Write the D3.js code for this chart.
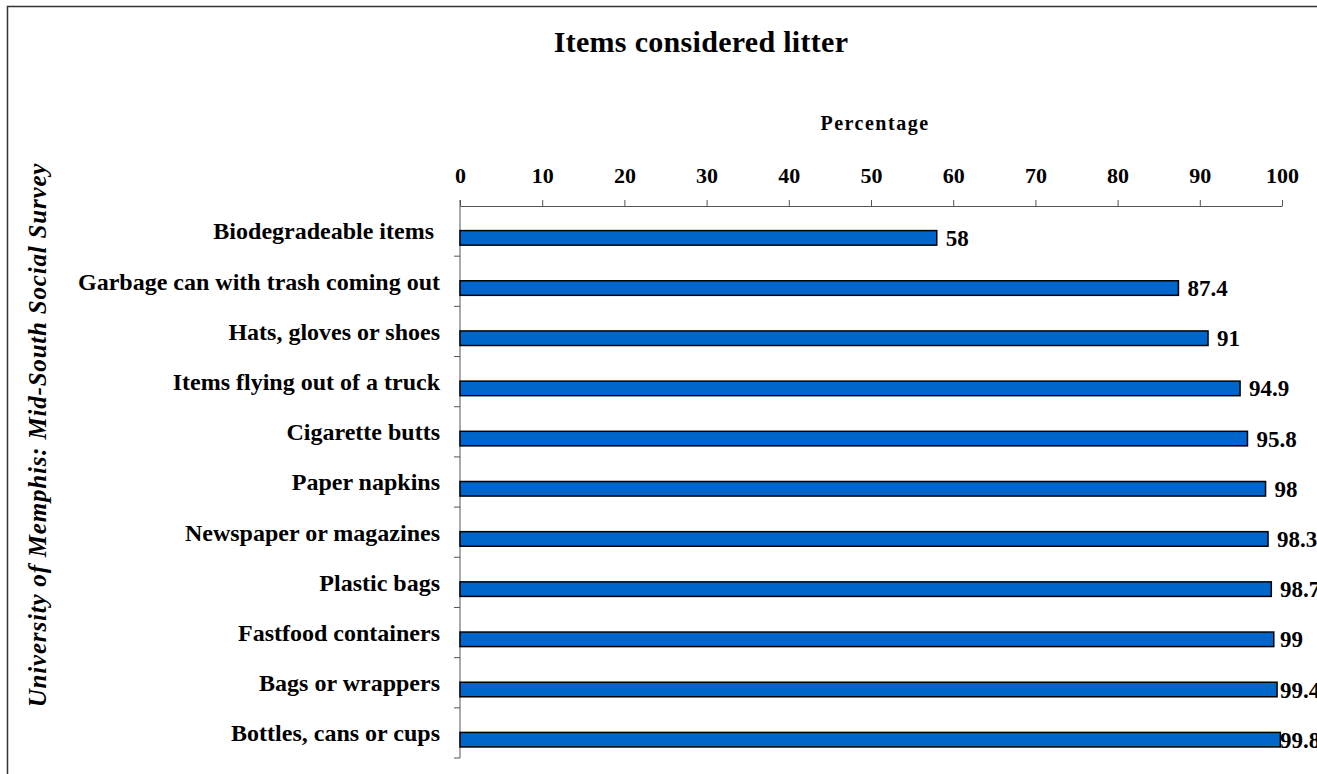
<!DOCTYPE html>
<html>
<head>
<meta charset="utf-8">
<script src="https://cdn.jsdelivr.net/npm/d3@7"></script>
<style>
  body { margin: 0; background: #fff; }
  text { font-family: "Liberation Serif", "Times New Roman", serif; font-weight: bold; }
</style>
</head>
<body>
<div id="chart"></div>
<script>
const categories = [
    "Biodegradeable items ",
    "Garbage can with trash coming out",
    "Hats, gloves or shoes",
    "Items flying out of a truck",
    "Cigarette butts",
    "Paper napkins",
    "Newspaper or magazines",
    "Plastic bags",
    "Fastfood containers",
    "Bags or wrappers",
    "Bottles, cans or cups"
];
const values = [58, 87.4, 91, 94.9, 95.8, 98, 98.3, 98.7, 99, 99.4, 99.8];
const xTicks = [0, 10, 20, 30, 40, 50, 60, 70, 80, 90, 100];

const width = 1317;
const height = 774;
const margin = { top: 206, right: 34, bottom: 16, left: 460 };
const innerWidth = width - margin.left - margin.right;
const innerHeight = height - margin.top - margin.bottom;

const svg = d3.select("#chart")
    .append("svg")
    .attr("width", width)
    .attr("height", height);

// chart border (right/bottom edges fall outside the picture)
svg.append("path")
    .attr("d", `M7.5,${height + 5}V6.5H${width + 5}`)
    .attr("fill", "none")
    .attr("stroke", "#333")
    .attr("stroke-width", 1.5);

svg.append("text")
    .attr("x", 701)
    .attr("y", 52)
    .attr("text-anchor", "middle")
    .style("font-size", "30px")
    .style("letter-spacing", "0.3px")
    .text("Items considered litter");

svg.append("text")
    .attr("x", 875)
    .attr("y", 130)
    .attr("text-anchor", "middle")
    .style("font-size", "20px")
    .style("letter-spacing", "1.5px")
    .text("Percentage");

svg.append("text")
    .attr("transform", "translate(46,435) rotate(-90)")
    .attr("text-anchor", "middle")
    .style("font-size", "25px")
    .style("font-style", "italic")
    .style("letter-spacing", "0.8px")
    .text("University of Memphis: Mid-South Social Survey");

const inner = svg.append("g")
    .attr("transform", `translate(${margin.left},${margin.top})`);

const xScale = d3.scaleLinear()
    .domain([0, 100])
    .range([0, innerWidth - 1]);

const yScale = d3.scaleBand()
    .domain(categories)
    .range([0, innerHeight])
    .padding(0);

// x axis on top
const xAxis = inner.append("g")
    .call(d3.axisTop(xScale).tickValues(xTicks).tickSize(6).tickSizeOuter(0).tickPadding(17).tickFormat(d3.format("d")));
xAxis.select(".domain").attr("stroke", "#555");
xAxis.selectAll(".tick line").attr("stroke", "#555");
xAxis.selectAll("text")
    .style("font-family", "Liberation Serif, serif")
    .style("font-weight", "bold")
    .style("font-size", "22px")
    .attr("fill", "#000");

// y axis line with ticks at category boundaries
inner.append("line")
    .attr("x1", 0).attr("x2", 0)
    .attr("y1", -6).attr("y2", innerHeight)
    .attr("stroke", "#555");
const bounds = categories.map(c => yScale(c)).concat([innerHeight]);
inner.selectAll(".ytick")
    .data(bounds.slice(1))
    .join("line")
    .attr("class", "ytick")
    .attr("x1", -6).attr("x2", 0)
    .attr("y1", d => d).attr("y2", d => d)
    .attr("stroke", "#555");

// category labels
inner.selectAll(".cat")
    .data(categories)
    .join("text")
    .attr("class", "cat")
    .attr("x", -20)
    .attr("y", d => yScale(d) + yScale.bandwidth() / 2)
    .attr("dy", "0.35em")
    .attr("text-anchor", "end")
    .style("font-size", "24px")
    .style("white-space", "pre")
    .text(d => d);

// bars (sit in lower half of each band)
const barTop = 0.49, barH = 0.29;
inner.selectAll(".bar")
    .data(values)
    .join("rect")
    .attr("class", "bar")
    .attr("x", 0)
    .attr("y", (d, i) => yScale(categories[i]) + yScale.bandwidth() * barTop)
    .attr("width", d => xScale(d))
    .attr("height", yScale.bandwidth() * barH)
    .attr("fill", "#0066CC")
    .attr("stroke", "#000")
    .attr("stroke-width", 1.5);

// value labels, held back near the right edge like the original
inner.selectAll(".val")
    .data(values)
    .join("text")
    .attr("class", "val")
    .attr("x", d => Math.min(xScale(d) + 9, innerWidth - 3))
    .attr("y", (d, i) => yScale(categories[i]) + yScale.bandwidth() * (barTop + barH / 2))
    .attr("dy", "0.35em")
    .style("font-size", "23px")
    .text(d => d);
</script>
</body>
</html>
